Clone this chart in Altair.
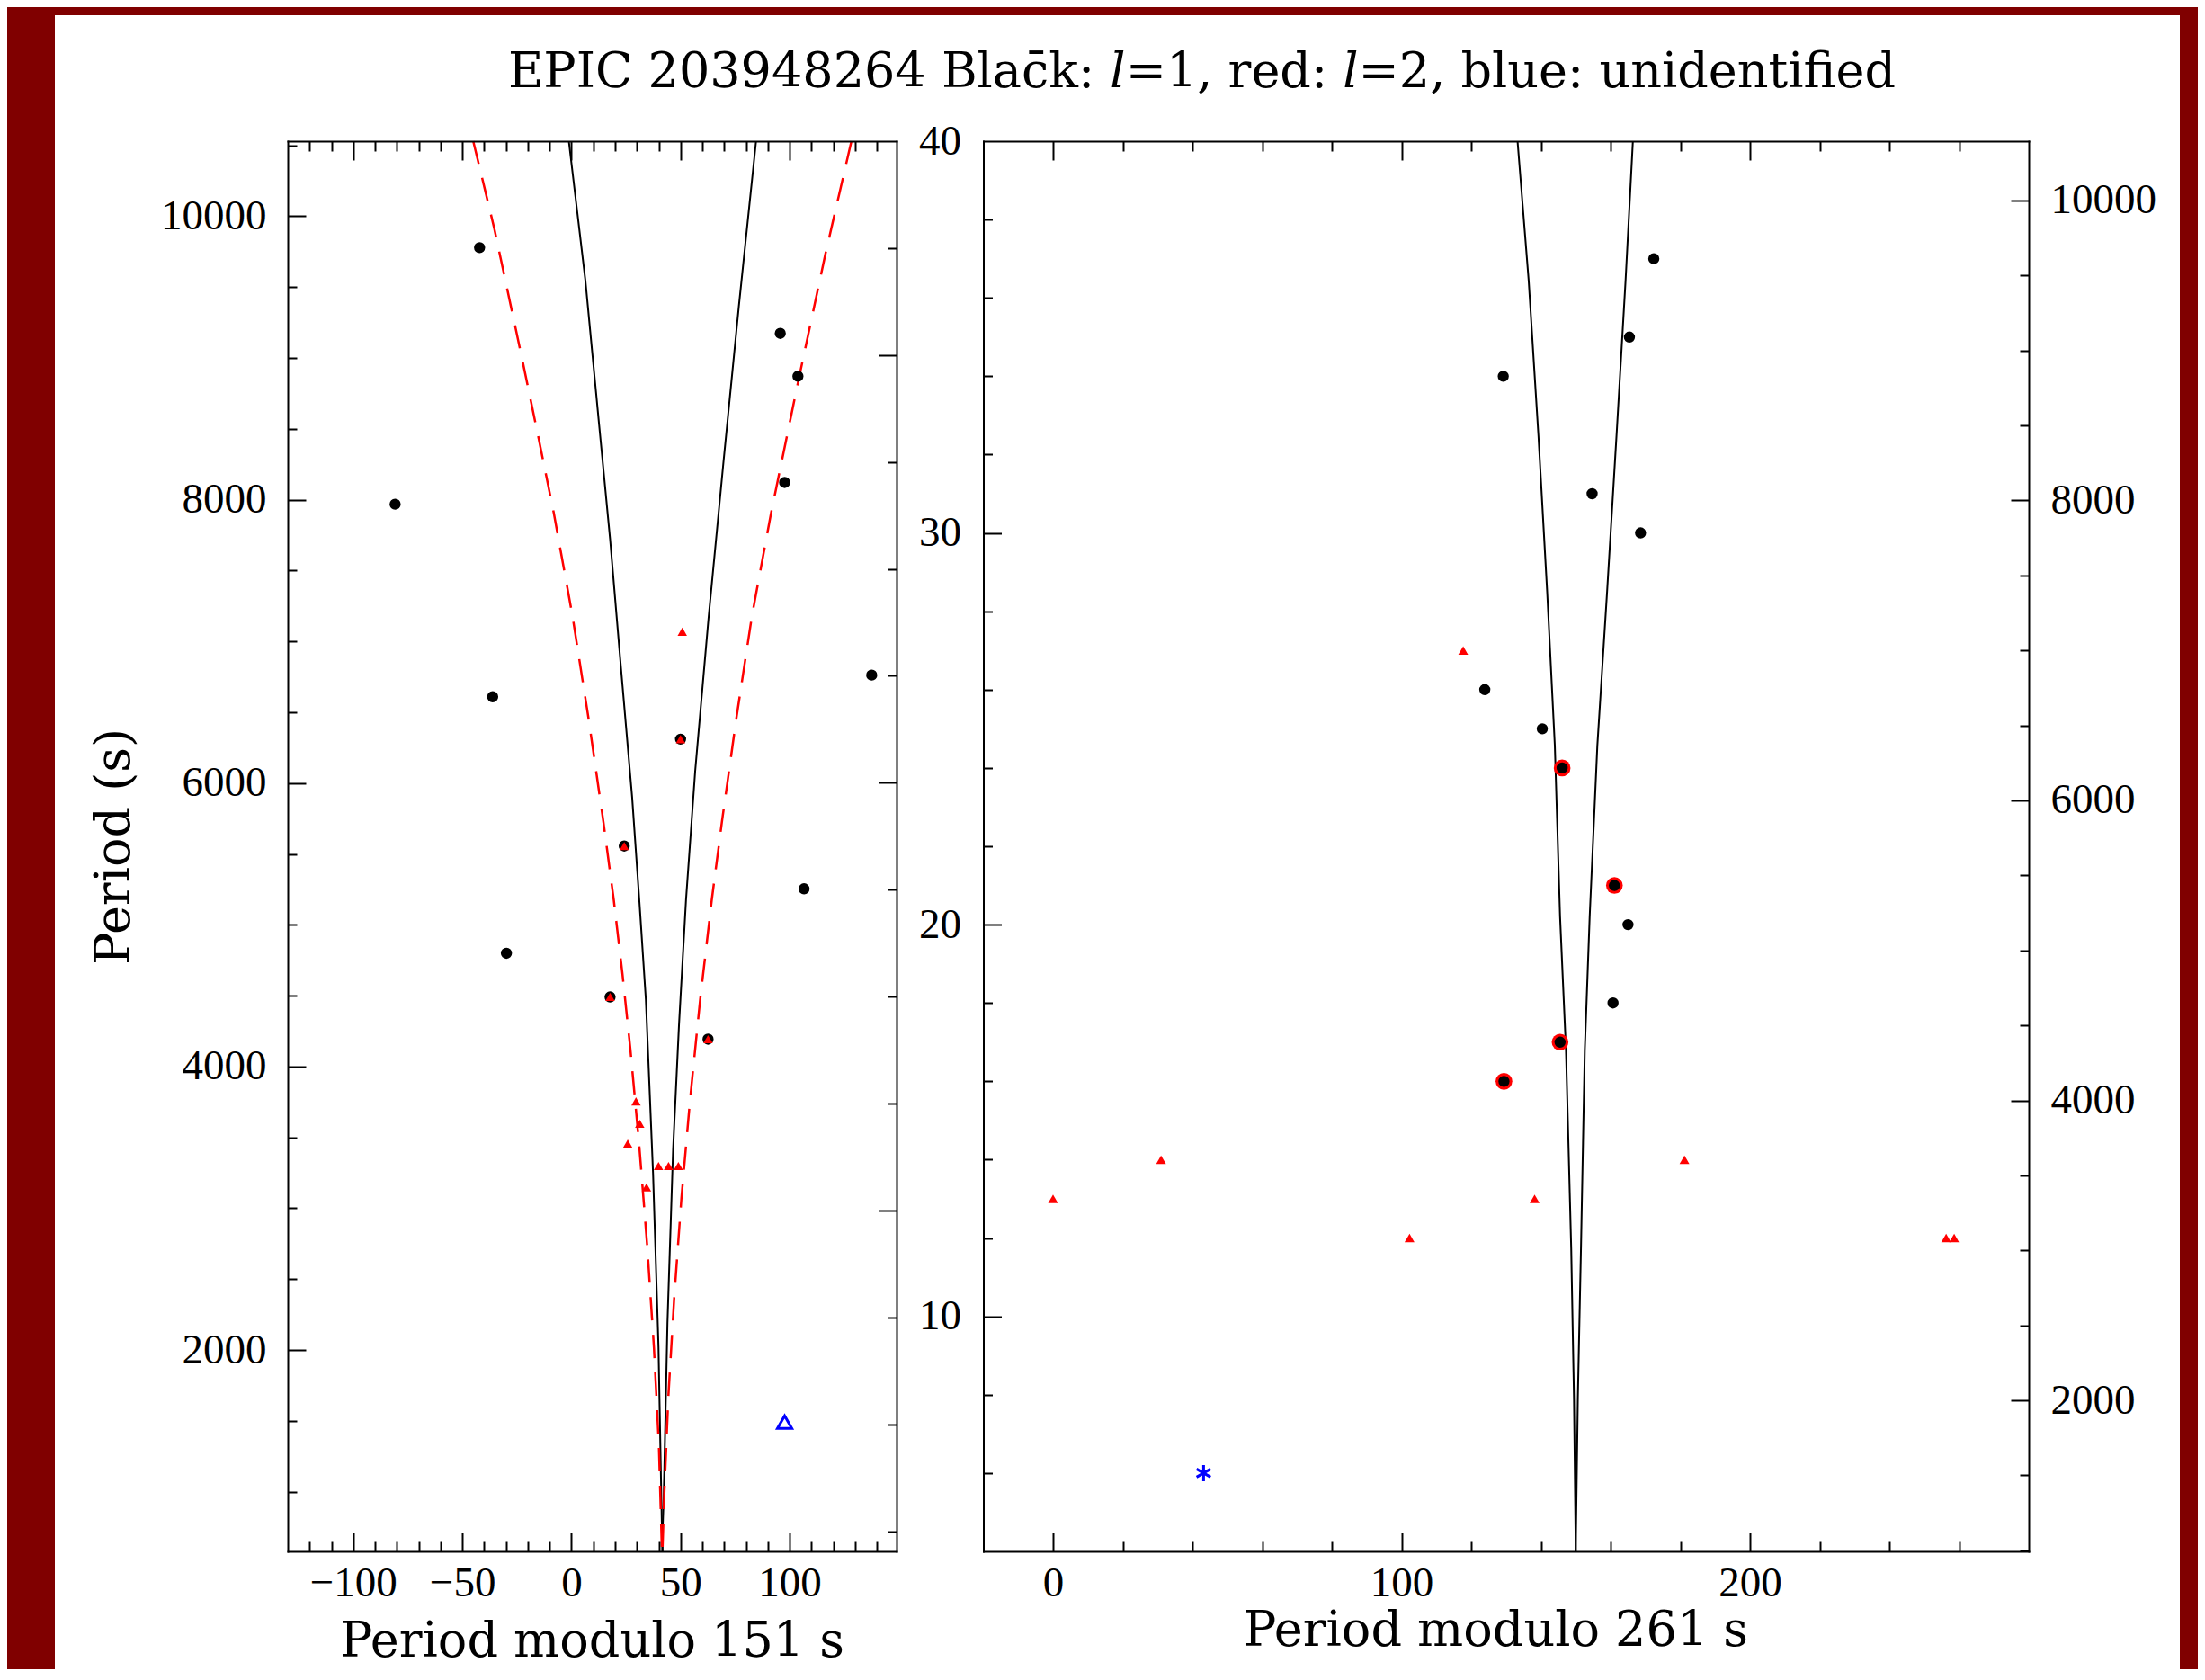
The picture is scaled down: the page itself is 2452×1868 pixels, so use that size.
import altair as alt
import pandas as pd

# ------------------------------------------------------------------ text
TITLE = "EPIC 203948264 Blac\u0304k: \U0001D459=1, red: \U0001D459=2, blue: unidentified"
XL_TITLE = "Period modulo 151 s"
XR_TITLE = "Period modulo 261 s"
Y_TITLE = "Period (s)"

# ------------------------------------------------------------------ left panel data (x = P mod 151, y = period)
l1_left_x = [-42.1, -80.8, -36.1, 95.7, 103.8, 97.7, 137.6, 50.0, 24.2, 106.6, -29.8, 17.7, 62.6]
l1_left_p = [9778, 7968, 6609, 9173, 8871, 8121, 6762, 6310, 5556, 5254, 4799, 4491, 4193]
l2_left_x = [50.8, 50.0, 24.2, 17.7, 62.6, 29.6, 31.3, 25.8, 39.9, 44.5, 49.0, 34.4]
l2_left_p = [7068, 6310, 5556, 4491, 4193, 3754, 3596, 3456, 3298, 3298, 3298, 3147]
un_left_x = [97.7]
un_left_p = [1491]

blkA_x = [-1.2, 6.4, 12.7, 17.7, 22.7, 27.8, 31.1, 34.1, 37.4, 39.9, 41.4, 41.7, 41.7]
blkA_p = [10529, 9545, 8525, 7724, 6813, 5902, 5175, 4474, 3246, 2018, 790, 700, 579]
blkB_x = [84.6, 76.7, 69.7, 62.9, 56.7, 52.5, 49.3, 46.6, 44.0, 42.3, 41.7, 41.7]
blkB_p = [10529, 9362, 8270, 7177, 6084, 5175, 4298, 3420, 2192, 964, 700, 579]
redA_x = [-45.0, -35.3, -22.7, -15.3, -8.1, 0.5, 7.9, 14.7, 19.4, 23.4, 27.0, 31.2, 34.8, 37.8, 40.1, 41.4, 41.7]
redA_p = [10529, 9909, 9000, 8452, 7906, 7177, 6449, 5720, 5175, 4650, 4124, 3420, 2719, 2018, 1316, 614, 579]
redB_x = [128.3, 116.3, 103.7, 91.5, 82.7, 75.5, 68.9, 64.3, 59.0, 54.4, 50.4, 47.1, 44.4, 42.5, 41.7]
redB_p = [10529, 9727, 8817, 7906, 7177, 6449, 5720, 5175, 4474, 3772, 3070, 2369, 1667, 964, 579]

# ------------------------------------------------------------------ right panel data (x = P mod 261, y = radial order)
l1_right_x = [172.4, 165.4, 129.2, 154.7, 168.6, 123.9, 140.4, 146.1, 161.1, 165.0, 160.7, 145.5, 129.4]
l1_right_n = [37, 35, 34, 31, 30, 26, 25, 24, 21, 20, 18, 17, 16]
ring_right_x = [146.1, 161.1, 145.5, 129.4]
ring_right_n = [24, 21, 17, 16]
l2_right_x = [117.7, 0.0, 31.0, 102.3, 138.2, 181.2, 256.3, 258.6]
l2_right_n = [27, 13, 14, 12, 13, 14, 12, 12]
un_right_x = [43.2]
un_right_n = [6]

rA_x = [133.3, 136.5, 139.3, 141.8, 144.0, 145.5, 147.2, 148.7, 149.5, 150.0]
rA_n = [40, 36.44, 32.48, 28.5, 24.57, 20.2, 16.8, 11.73, 7.9, 4]
rB_x = [166.4, 164.3, 161.7, 159.0, 156.2, 154.0, 152.6, 151.5, 150.6, 150.0]
rB_n = [40, 36.44, 32.48, 28.5, 24.57, 20.2, 16.8, 11.73, 7.9, 4]

# ------------------------------------------------------------------ axes
xl_labels = [-100, -50, 0, 50, 100]
xl_major = [-100, -50, 0, 50, 100]
xl_minor = [-120, -110, -90, -80, -70, -60, -40, -30, -20, -10, 10, 20, 30, 40, 60, 70, 80, 90, 110, 120, 130, 140]
pl_labels = [2000, 4000, 6000, 8000, 10000]
pl_minor = [1000, 1500, 2500, 3000, 3500, 4500, 5000, 5500, 6500, 7000, 7500, 8500, 9000, 9500, 10500]
n2_major = [20, 40, 60]
n2_minor = [5, 10, 15, 25, 30, 35, 45, 50, 55, 65]

xr_labels = [0, 100, 200]
xr_minor = [20, 40, 60, 80, 120, 140, 160, 180, 220, 240, 260]
nr_labels = [10, 20, 30, 40]
nr_major = [10, 20, 30]
nr_minor = [6, 8, 12, 14, 16, 18, 22, 24, 26, 28, 32, 34, 36, 38]
pr_labels = [2000, 4000, 6000, 8000, 10000]
pr_minor = [1000, 1500, 2500, 3000, 3500, 4500, 5000, 5500, 6500, 7000, 7500, 8500, 9000, 9500]

# ------------------------------------------------------------------ geometry
W, H = 1936, 1568
XL_RANGE = [0, 677]
XR_RANGE = [773.5, 1936]
MAROON = "#800000"


def s_xl():
    return alt.Scale(domain=[-130, 149], range=XL_RANGE, nice=False, zero=False)


def s_pl():
    return alt.Scale(domain=[579, 10529], nice=False, zero=False)


def s_n2():
    return alt.Scale(domain=[4.06, 70], nice=False, zero=False)


def s_xr():
    return alt.Scale(domain=[-20, 280], range=XR_RANGE, nice=False, zero=False)


def s_nr():
    return alt.Scale(domain=[4, 40], nice=False, zero=False)


def s_pr():
    return alt.Scale(domain=[993, 10395], nice=False, zero=False)


def axis_layer(ch, vals, scale, axis):
    df = pd.DataFrame({"v": vals})
    enc = alt.X("v:Q", scale=scale, axis=axis) if ch == "x" else alt.Y("v:Q", scale=scale, axis=axis)
    return alt.Chart(df).mark_point(opacity=0).encode(**{ch: enc})


def tick_pair(ch, scale_fn, orient, offset, majors, minors, domain=False, maj=21, mnr=11):
    out = []
    out.append(axis_layer(ch, majors, scale_fn(), alt.Axis(
        orient=orient, offset=offset, values=majors, labels=False, domain=domain,
        ticks=True, tickSize=maj, title=None, grid=False, zindex=1)))
    out.append(axis_layer(ch, minors, scale_fn(), alt.Axis(
        orient=orient, offset=offset, values=minors, labels=False, domain=False,
        ticks=True, tickSize=mnr, title=None, grid=False, zindex=1)))
    return out


axis_layers = []
# left panel
axis_layers.append(axis_layer("x", xl_labels, s_xl(), alt.Axis(
    orient="bottom", values=xl_labels, ticks=False, domain=True, labelPadding=12, format="d",
    labelFlush=False, title=XL_TITLE, titleX=338, titleY=116, titleBaseline="alphabetic",
    titleAlign="center", grid=False, zindex=1)))
axis_layers += tick_pair("x", s_xl, "top", -H, xl_major, xl_minor)
axis_layers += tick_pair("x", s_xl, "bottom", -H, xl_major, xl_minor, domain=True)
axis_layers.append(axis_layer("y", pl_labels, s_pl(), alt.Axis(
    orient="left", values=pl_labels, ticks=False, domain=True, labelPadding=24, format="d",
    title=Y_TITLE, titleX=-177, titleY=H / 2, titleAngle=270, titleBaseline="alphabetic",
    titleAlign="center", grid=False, zindex=1)))
axis_layers += tick_pair("y", s_pl, "right", -W, pl_labels, pl_minor, maj=20, mnr=10)
axis_layers += tick_pair("y", s_n2, "left", -XL_RANGE[1], n2_major, n2_minor, domain=True, maj=20, mnr=10)
# right panel
axis_layers.append(axis_layer("x", xr_labels, s_xr(), alt.Axis(
    orient="bottom", values=xr_labels, ticks=False, domain=True, labelPadding=12, format="d",
    labelFlush=False, title=XR_TITLE, titleX=1343, titleY=104, titleBaseline="alphabetic",
    titleAlign="center", grid=False, zindex=1)))
axis_layers += tick_pair("x", s_xr, "top", -H, xr_labels, xr_minor)
axis_layers += tick_pair("x", s_xr, "bottom", -H, xr_labels, xr_minor, domain=True)
axis_layers.append(axis_layer("y", nr_labels, s_nr(), alt.Axis(
    orient="left", offset=-XR_RANGE[0], values=nr_labels, ticks=False, domain=True,
    labelPadding=25, format="d", title=None, grid=False, zindex=1)))
axis_layers += tick_pair("y", s_nr, "right", -(W - XR_RANGE[0]), nr_major, nr_minor, maj=20, mnr=10)
axis_layers.append(axis_layer("y", pr_labels, s_pr(), alt.Axis(
    orient="right", values=pr_labels, ticks=False, domain=True, labelPadding=24,
    format="d", title=None, grid=False, zindex=1)))
axis_layers += tick_pair("y", s_pr, "left", -W, pr_labels, pr_minor, maj=20, mnr=10)

# ------------------------------------------------------------------ data layers


def curve_df(curves):
    rows = []
    for name, xs, ys in curves:
        for i, (a, b) in enumerate(zip(xs, ys)):
            rows.append({"curve": name, "i": i, "x": a, "y": b})
    return pd.DataFrame(rows)


one = pd.DataFrame({"a": [0]})
# maroon frame around the white page (decoration)
frame_left = alt.Chart(one).mark_rect(color=MAROON).encode(
    x=alt.value(-320), x2=alt.value(-259), y=alt.value(-160), y2=alt.value(1760))
frame_top = alt.Chart(one).mark_rect(color=MAROON).encode(
    x=alt.value(-320), x2=alt.value(2140), y=alt.value(-160), y2=alt.value(-140))
frame_right = alt.Chart(one).mark_rect(color=MAROON).encode(
    x=alt.value(2104), x2=alt.value(2140), y=alt.value(-160), y2=alt.value(1760))

title_layer = alt.Chart(one).mark_text(
    text=TITLE, font="DejaVu Serif", fontSize=54, align="center", baseline="alphabetic",
    color="black").encode(x=alt.value(1016.5), y=alt.value(-60))

left_black_lines = alt.Chart(curve_df([("a", blkA_x, blkA_p), ("b", blkB_x, blkB_p)])).mark_line(
    color="black", strokeWidth=2).encode(
    x=alt.X("x:Q", scale=s_xl(), axis=None), y=alt.Y("y:Q", scale=s_pl(), axis=None),
    detail="curve:N", order="i:Q")
left_red_lines = alt.Chart(curve_df([("a", redA_x, redA_p), ("b", redB_x, redB_p)])).mark_line(
    color="#ff0000", strokeWidth=2.5, strokeDash=[26, 16]).encode(
    x=alt.X("x:Q", scale=s_xl(), axis=None), y=alt.Y("y:Q", scale=s_pl(), axis=None),
    detail="curve:N", order="i:Q")
left_black_pts = alt.Chart(pd.DataFrame({"x": l1_left_x, "y": l1_left_p})).mark_circle(
    color="black", size=154, opacity=1).encode(
    x=alt.X("x:Q", scale=s_xl(), axis=None), y=alt.Y("y:Q", scale=s_pl(), axis=None))
left_red_pts = alt.Chart(pd.DataFrame({"x": l2_left_x, "y": l2_left_p})).mark_point(
    shape="triangle-up", filled=True, color="#ff0000", size=110, opacity=1).encode(
    x=alt.X("x:Q", scale=s_xl(), axis=None), y=alt.Y("y:Q", scale=s_pl(), axis=None))
left_blue_pts = alt.Chart(pd.DataFrame({"x": un_left_x, "y": un_left_p})).mark_point(
    shape="triangle-up", filled=False, color="#0000ff", size=256, strokeWidth=3, opacity=1).encode(
    x=alt.X("x:Q", scale=s_xl(), axis=None), y=alt.Y("y:Q", scale=s_pl(), axis=None))

right_black_lines = alt.Chart(curve_df([("a", rA_x, rA_n), ("b", rB_x, rB_n)])).mark_line(
    color="black", strokeWidth=2).encode(
    x=alt.X("x:Q", scale=s_xr(), axis=None), y=alt.Y("y:Q", scale=s_nr(), axis=None),
    detail="curve:N", order="i:Q")
right_rings = alt.Chart(pd.DataFrame({"x": ring_right_x, "y": ring_right_n})).mark_circle(
    color="#ff0000", size=346, opacity=1).encode(
    x=alt.X("x:Q", scale=s_xr(), axis=None), y=alt.Y("y:Q", scale=s_nr(), axis=None))
right_black_pts = alt.Chart(pd.DataFrame({"x": l1_right_x, "y": l1_right_n})).mark_circle(
    color="black", size=154, opacity=1).encode(
    x=alt.X("x:Q", scale=s_xr(), axis=None), y=alt.Y("y:Q", scale=s_nr(), axis=None))
right_red_pts = alt.Chart(pd.DataFrame({"x": l2_right_x, "y": l2_right_n})).mark_point(
    shape="triangle-up", filled=True, color="#ff0000", size=120, opacity=1).encode(
    x=alt.X("x:Q", scale=s_xr(), axis=None), y=alt.Y("y:Q", scale=s_nr(), axis=None))
right_blue_pts = alt.Chart(pd.DataFrame({"x": un_right_x, "y": un_right_n})).mark_point(
    shape="M0,-1L0,1M-0.866,-0.5L0.866,0.5M-0.866,0.5L0.866,-0.5", filled=False,
    color="#0000ff", size=324, strokeWidth=3, opacity=1).encode(
    x=alt.X("x:Q", scale=s_xr(), axis=None), y=alt.Y("y:Q", scale=s_nr(), axis=None))

layers = [frame_left, frame_top, frame_right, title_layer,
          left_black_lines, left_red_lines, left_black_pts, left_red_pts, left_blue_pts,
          right_black_lines, right_rings, right_black_pts, right_red_pts, right_blue_pts] + axis_layers

chart = alt.layer(*layers).resolve_scale(x="independent", y="independent").resolve_axis(
    x="independent", y="independent").properties(
    width=W, height=H,
    autosize=alt.AutoSizeParams(type="none"),
    padding={"left": 312, "top": 149, "right": 188, "bottom": 131},
).configure(background="white").configure_view(strokeWidth=0).configure_axis(
    domainColor="black", domainWidth=2, domainCap="square", tickColor="black", tickWidth=2,
    labelColor="black", labelFont="Liberation Serif", labelFontSize=47,
    titleColor="black", titleFont="DejaVu Serif", titleFontSize=54, titleFontWeight="normal",
    grid=False)

chart.save("out.html", embed_options={"renderer": "svg", "actions": False})
